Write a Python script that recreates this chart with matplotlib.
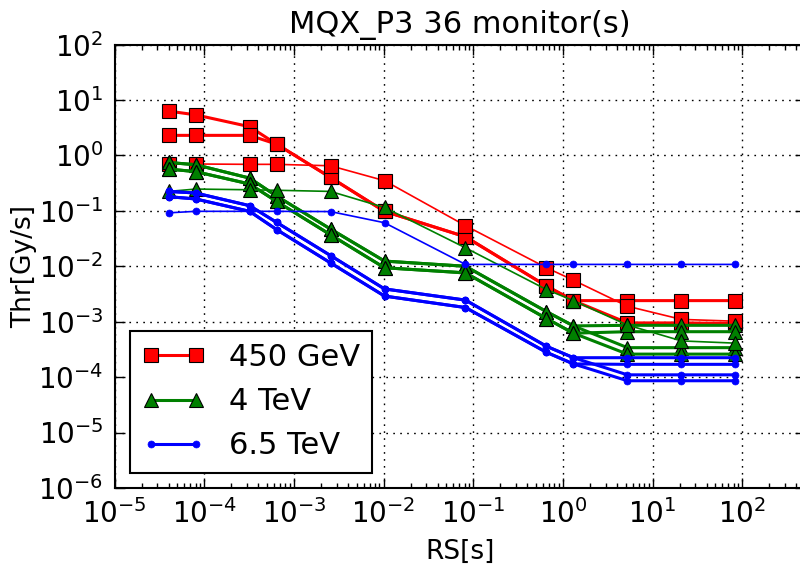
import matplotlib
matplotlib.use("Agg")
import matplotlib.pyplot as plt

# Running sums (s)
rs = [4e-5, 8e-5, 3.2e-4, 6.4e-4, 2.56e-3, 1.024e-2, 8.192e-2, 0.655, 1.31, 5.24, 20.97, 83.89]

# 450 GeV thresholds (Gy/s)
red_a = [6.3, 5.4, 3.3, 1.6, 0.40, 0.098, 0.034, 0.0044, 0.0024, 0.0024, 0.0024, 0.0024]
red_b = [2.3, 2.3, 2.3, 1.6, 0.40, 0.098, 0.034, 0.0044, 0.0024, 0.00095, 0.00095, 0.00093]
red_c = [0.70, 0.70, 0.69, 0.69, 0.65, 0.35, 0.054, 0.0094, 0.0056, 0.0019, 0.0011, 0.00102]

# 4 TeV thresholds
green_a = [0.745, 0.68, 0.39, 0.185, 0.047, 0.0124, 0.0100, 0.00152, 0.00084, 0.00086, 0.00086, 0.00086]
green_b = [0.745, 0.68, 0.39, 0.185, 0.047, 0.0124, 0.0100, 0.00152, 0.00084, 0.00034, 0.00034, 0.00034]
green_c = [0.567, 0.51, 0.305, 0.148, 0.037, 0.0094, 0.0076, 0.00114, 0.00062, 0.00066, 0.00066, 0.00066]
green_d = [0.567, 0.51, 0.305, 0.148, 0.037, 0.0094, 0.0076, 0.00114, 0.00062, 0.00026, 0.00026, 0.00026]
green_e = [0.224, 0.247, 0.24, 0.235, 0.224, 0.115, 0.0215, 0.0038, 0.0024, 0.00087, 0.00045, 0.00041]

# 6.5 TeV thresholds
blue_a = [0.224, 0.21, 0.124, 0.062, 0.0156, 0.0039, 0.00245, 0.00036, 0.000224, 0.000224, 0.000224, 0.000224]
blue_b = [0.224, 0.21, 0.124, 0.062, 0.0156, 0.0039, 0.00245, 0.00036, 0.000224, 0.00011, 0.00011, 0.00011]
blue_c = [0.18, 0.164, 0.098, 0.046, 0.0115, 0.0029, 0.0018, 0.00028, 0.000173, 0.00017, 0.00017, 0.00017]
blue_d = [0.18, 0.164, 0.098, 0.046, 0.0115, 0.0029, 0.0018, 0.00028, 0.000173, 0.000086, 0.000086, 0.000086]
blue_e = [0.092, 0.098, 0.098, 0.098, 0.097, 0.061, 0.0108, 0.0108, 0.0108, 0.0108, 0.0108, 0.0108]

title = "MQX_P3 36 monitor(s)"
labels = ["450 GeV", "4 TeV", "6.5 TeV"]

plt.rcParams['font.family'] = ['DejaVu Sans']
plt.rcParams['mathtext.fontset'] = 'dejavusans'

fig = plt.figure(figsize=(8.0, 5.64), dpi=100)
# axes spans x pixels ~114.6..805, y pixels ~44.6..488
ax = fig.add_axes([0.1432, 0.1348, 0.863, 0.7862])

thick, thin = 2.2, 1.2
red_series = [(red_a, thick), (red_b, thick), (red_c, thin)]
green_series = [(green_a, thick), (green_b, thick), (green_c, thick), (green_d, thick), (green_e, thin)]
blue_series = [(blue_a, thick), (blue_b, thick), (blue_c, thick), (blue_d, thick), (blue_e, thin)]

for i, (vals, lw) in enumerate(red_series):
    ax.plot(rs, vals, color='r', lw=lw, marker='s', ms=10, mfc='r', mec='k', mew=0.8,
            label=labels[0] if i == 0 else None)
for i, (vals, lw) in enumerate(green_series):
    ax.plot(rs, vals, color='g', lw=lw, marker='^', ms=10, mfc='g', mec='k', mew=0.8,
            label=labels[1] if i == 0 else None)
for i, (vals, lw) in enumerate(blue_series):
    ax.plot(rs, vals, color='b', lw=lw, marker='o', ms=5, mfc='b', mec='b', mew=0.5,
            label=labels[2] if i == 0 else None)

ax.set_xscale('log')
ax.set_yscale('log')
ax.set_xlim(1e-5, 500)
ax.set_ylim(1e-6, 1e2)
ax.set_xticks([10.0**k for k in range(-5, 3)])
ax.set_yticks([10.0**k for k in range(-6, 3)])

ax.grid(True, which='major', color='k', linestyle=(0, (1.2, 3.8)), linewidth=1.0)
ax.tick_params(which='both', direction='in', top=True, right=True, labelsize=20, width=1)
ax.tick_params(which='major', length=7, pad=8)
ax.tick_params(which='minor', length=3.5)
for s in ax.spines.values():
    s.set_linewidth(1.5)

ax.set_title(title, fontsize=22, pad=8)
ax.set_xlabel("RS[s]", fontsize=19, labelpad=7)
ax.set_ylabel("Thr[Gy/s]", fontsize=19, labelpad=1)

leg = ax.legend(loc='lower left', numpoints=2, fontsize=22, fancybox=False, framealpha=1,
                edgecolor='k', handlelength=2.05, handletextpad=0.8, labelspacing=0.5,
                borderpad=0.4, borderaxespad=0.5)
leg.get_frame().set_linewidth(1.5)

fig.savefig("out.png", dpi=100)
